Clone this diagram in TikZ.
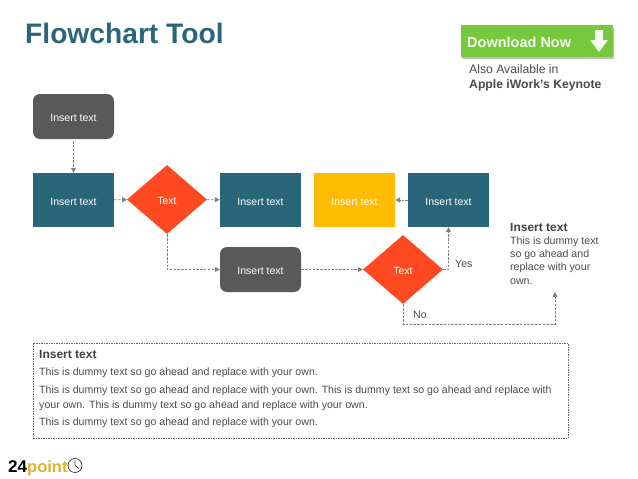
\documentclass[tikz,border=0pt]{standalone}
\usepackage{fontspec}
\setmainfont{Liberation Sans}
\usetikzlibrary{shapes.geometric,arrows.meta}
\definecolor{tealbox}{HTML}{2A6679}
\definecolor{redbox}{HTML}{FF4A21}
\definecolor{yellowbox}{HTML}{FFBC00}
\definecolor{greybox}{HTML}{595959}
\definecolor{greenbtn}{HTML}{76C83C}
\definecolor{logoyellow}{HTML}{DFB12E}
\definecolor{linegrey}{HTML}{7F7F7F}
\definecolor{bodygrey}{HTML}{4A4A4A}
\begin{document}
\begin{tikzpicture}
[x=1pt,y=-1pt,
  boxdecorate/.style={shape=rectangle,minimum width=81pt,minimum height=54pt,inner sep=0pt,text=white,text height=10pt,text depth=0pt,font=\fontsize{10.5}{13}\selectfont},%
  rounddecorate/.style={boxdecorate,rounded corners=7pt,minimum height=45pt,fill=greybox},%
  diamonddecorate/.style={shape=diamond,minimum width=80pt,minimum height=69pt,inner sep=0pt,fill=redbox,text=white,text height=10pt,text depth=0pt,font=\fontsize{10.5}{13}\selectfont},%
  linedecorate/.style={-{Triangle[length=5pt,width=5pt]},dash pattern=on 2.5pt off 1.3pt,linegrey,line width=0.8pt},%
  plaintext/.style={inner sep=0pt,anchor=base west,text=bodygrey,align=left,font=\fontsize{10.6}{14.5}\selectfont},%
  headtext/.style={plaintext,text=black!75,font=\fontsize{12}{14}\selectfont\bfseries}]
\useasboundingbox (0,0) rectangle (638,479);
%% title and download button
\node (title) at (25,43) [inner sep=0pt,anchor=base west,text=tealbox,font=\fontsize{28.2}{32}\selectfont\bfseries] {Flowchart Tool};
\fill[black!25] (462,28) rectangle (614,59);
\node (button) at (537,41) [minimum width=152pt,minimum height=32pt,inner sep=0pt,fill=greenbtn] {};
\node (download) at (467,47) [inner sep=0pt,anchor=base west,text=white!92!greenbtn,font=\fontsize{14.5}{17}\selectfont\bfseries] {Download Now};
\fill[white!92!greenbtn] (595,30) -- (603,30) -- (603,40) -- (608,40) -- (599,52) -- (590,40) -- (595,40) -- cycle;
\node (also) at (469,73) [plaintext,font=\fontsize{12.2}{14}\selectfont] {Also Available in};
\node (apple) at (469,88) [plaintext,font=\fontsize{12.2}{14}\selectfont\bfseries] {Apple iWork's Keynote};
%% nodes or vertices
\foreach \nodename/\x/\y/\shapestyle/\boxcolor/\boxtext in {
  top/73.5/116.5/rounddecorate/greybox/Insert text,
  first/73.5/200/boxdecorate/tealbox/Insert text,
  second/260.5/200/boxdecorate/tealbox/Insert text,
  third/354.5/200/boxdecorate/yellowbox/Insert text,
  fourth/448.5/200/boxdecorate/tealbox/Insert text,
  lower/260.5/269.5/rounddecorate/greybox/Insert text,
  splitone/167/199.5/diamonddecorate/redbox/Text,
  splittwo/403/269.5/diamonddecorate/redbox/Text}
{
  \node (\nodename) at (\x,\y) [\shapestyle,fill=\boxcolor] {\boxtext};
}
\coordinate (noend) at (555,292);
%% edges or lines
\path
\foreach \startnode/\endnode in {first/splitone, splitone/second, fourth/third, lower/splittwo} {
  (\startnode) edge[linedecorate] (\endnode)
};
\draw[linedecorate] ([yshift=-2pt]top.south) -- (first.north);
\draw[linedecorate] (splitone.south) |- (lower.west);
\draw[linedecorate] (splittwo.east) -| (fourth.south);
\draw[linedecorate] (splittwo.south) -- ++(0,20) -| (noend);
\node (yes) at (455,267) [plaintext] {Yes};
\node (no) at (413,318) [plaintext] {No};
%% side note
\node (sidehead) at (510,231) [headtext] {Insert text};
\node (sidetext) at (510,284) [plaintext,font=\fontsize{10.6}{13.3}\selectfont] {This is dummy text\\so go ahead and\\replace with your\\own.};
%% dashed panel
\node (panel) at (300.5,390.5) [draw=black!60,dash pattern=on 1.5pt off 1pt,line width=0.6pt,minimum width=535pt,minimum height=95pt,inner sep=0pt] {};
\node (panelhead) at (39,358) [headtext] {Insert text};
\node (lineone) at (39,375) [plaintext] {This is dummy text so go ahead and replace with your own.};
\node (linetwo) at (39,408) [plaintext] {This is dummy text so go ahead and replace with your own. This is dummy text so go ahead and replace with\\your own. This is dummy text so go ahead and replace with your own.};
\node (linethree) at (39,425.5) [plaintext] {This is dummy text so go ahead and replace with your own.};
%% logo
\node (logofour) at (8,472) [inner sep=0pt,anchor=base west,text=black,font=\fontsize{17}{19}\selectfont\bfseries] {24};
\node (logopoint) at (27,472) [inner sep=0pt,anchor=base west,text=logoyellow,font=\fontsize{16.5}{19}\selectfont\bfseries] {point};
\node (clock) at (75,465.5) [shape=circle,draw=black!80,line width=0.7pt,minimum size=14pt,inner sep=0pt] {};
\draw[black!80,line width=0.7pt] (clock.center) -- ++(0,-5) (clock.center) -- ++(4,3);
\end{tikzpicture}
\end{document}
